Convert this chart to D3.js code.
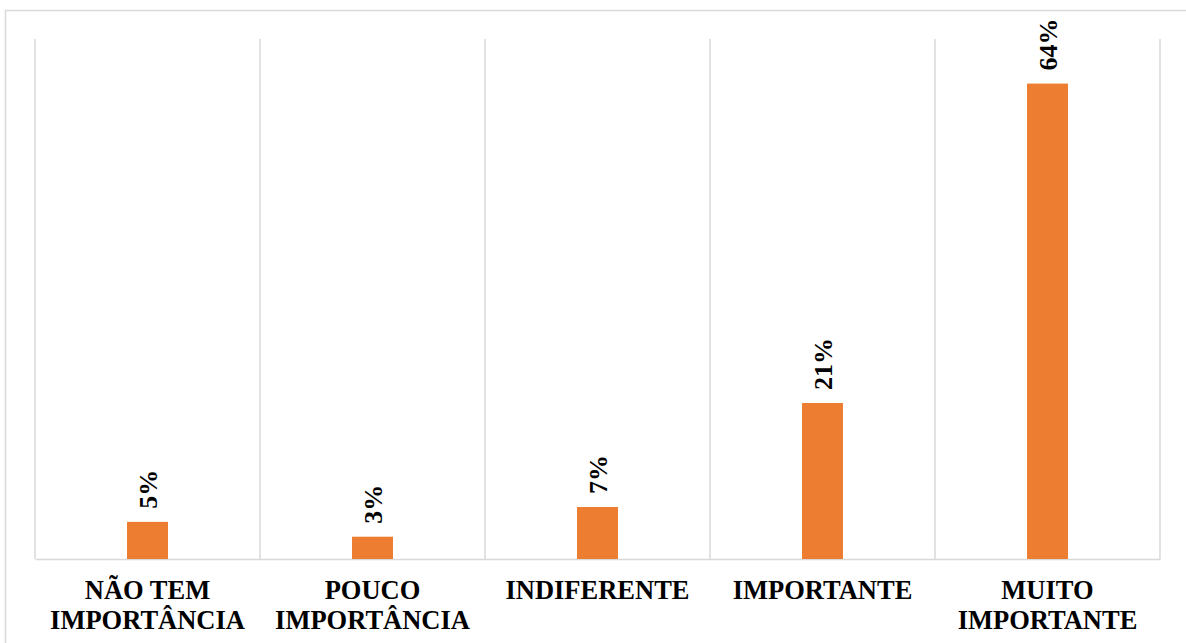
<!DOCTYPE html>
<html>
<head>
<meta charset="utf-8">
<script src="https://cdn.jsdelivr.net/npm/d3@7/dist/d3.min.js"></script>
<style>
  html, body { margin: 0; padding: 0; background: #ffffff; }
  svg { display: block; }
</style>
</head>
<body>
<svg id="chart" width="1186" height="643"></svg>
<script>
// Categories (each label split into its two lines) and percentage values
const categories = ["NÃO TEM IMPORTÂNCIA", "POUCO IMPORTÂNCIA", "INDIFERENTE", "IMPORTANTE", "MUITO IMPORTANTE"];
const categoryLines = [["NÃO TEM", "IMPORTÂNCIA"], ["POUCO", "IMPORTÂNCIA"], ["INDIFERENTE"], ["IMPORTANTE"], ["MUITO", "IMPORTANTE"]];
const values = [5, 3, 7, 21, 64];
const valueLabels = ["5%", "3%", "7%", "21%", "64%"];

const svg = d3.select("#chart");
const W = 1186, H = 643;
const plot = { left: 35, right: 1160, top: 39, bottom: 559 };
const gridColor = "#d9d9d9";
const barColor = "#ED7D31";
const font = "'Liberation Serif', 'Times New Roman', serif";

// Outer chart frame
svg.append("rect")
  .attr("x", 5.5).attr("y", 10.5)
  .attr("width", W + 10).attr("height", H + 10)
  .attr("fill", "#ffffff")
  .attr("stroke", gridColor).attr("stroke-width", 1.5);

const x = d3.scaleBand()
  .domain(categories)
  .range([plot.left, plot.right])
  .paddingInner(0).paddingOuter(0);

const y = d3.scaleLinear()
  .domain([0, 70])
  .range([plot.bottom, plot.top]);

// Vertical separators between categories
const bounds = categories.map(c => x(c)).concat([plot.right]);
svg.append("g").selectAll("line")
  .data(bounds)
  .join("line")
  .attr("x1", d => d).attr("x2", d => d)
  .attr("y1", plot.top).attr("y2", plot.bottom)
  .attr("stroke", gridColor).attr("stroke-width", 1.5);

// Category axis along the baseline
const xAxis = svg.append("g")
  .attr("transform", `translate(0,${plot.bottom})`)
  .call(d3.axisBottom(x).tickSize(0).tickFormat(""));
xAxis.select(".domain").attr("stroke", gridColor).attr("stroke-width", 1.5);

// Bars
const barW = x.bandwidth() * 0.182;
svg.append("g").selectAll("rect")
  .data(values)
  .join("rect")
  .attr("x", (d, i) => x(categories[i]) + x.bandwidth() / 2 - barW / 2)
  .attr("y", d => y(d))
  .attr("width", barW)
  .attr("height", d => y(0) - y(d))
  .attr("fill", barColor);

// Rotated value labels above the bars
svg.append("g").selectAll("text")
  .data(values)
  .join("text")
  .attr("transform", (d, i) => `translate(${x(categories[i]) + x.bandwidth() / 2},${y(d) - 13}) rotate(-90)`)
  .attr("dy", "0.35em")
  .attr("text-anchor", "start")
  .attr("font-family", font)
  .attr("font-weight", "bold")
  .attr("font-size", "26px")
  .attr("fill", "#000000")
  .text((d, i) => valueLabels[i]);

// Category labels below the baseline
const catG = svg.append("g").selectAll("text")
  .data(categories)
  .join("text")
  .attr("x", d => x(d) + x.bandwidth() / 2)
  .attr("y", 599)
  .attr("text-anchor", "middle")
  .attr("font-family", font)
  .attr("font-weight", "bold")
  .attr("font-size", "26.5px")
  .attr("fill", "#000000");
catG.selectAll("tspan")
  .data((d, i) => categoryLines[i])
  .join("tspan")
  .attr("x", function() { return this.parentNode.getAttribute("x"); })
  .attr("dy", (d, j) => j === 0 ? 0 : 30)
  .text(d => d);
</script>
</body>
</html>
